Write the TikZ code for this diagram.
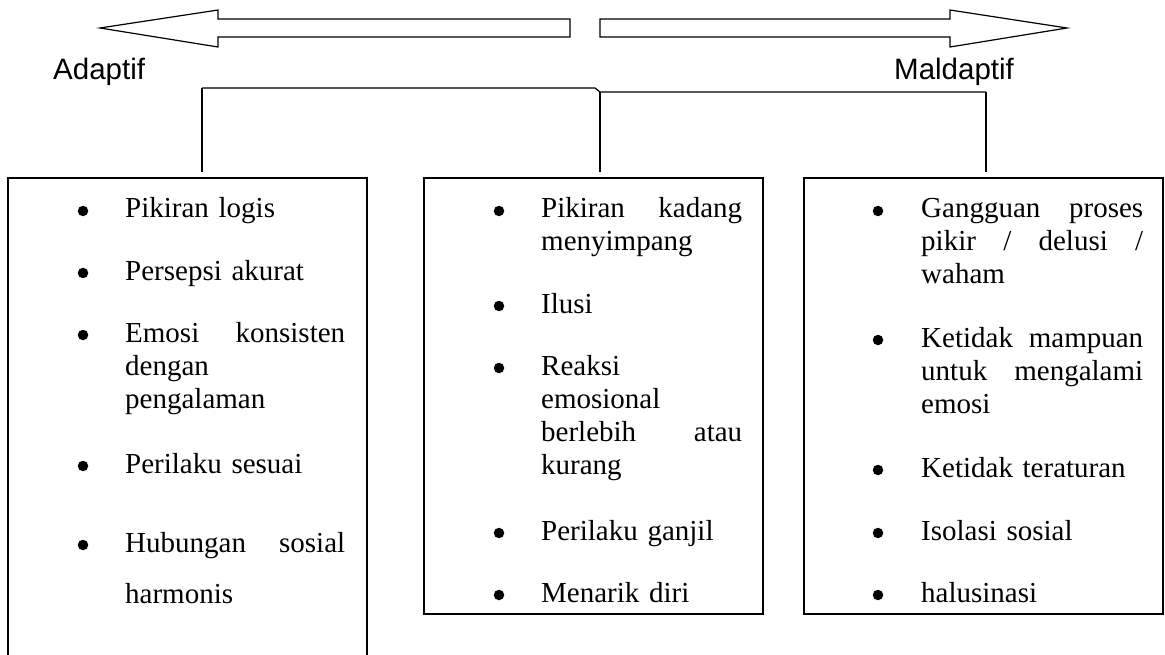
\documentclass[tikz,border=0pt]{standalone}
\usepackage{fontspec}
\setmainfont{Liberation Serif}
\newfontfamily\judulfont{Liberation Sans}

\tikzset{
  garis/.style={line width=1.2pt},
  kotak/.style={line width=1.4pt},
  judul/.style={anchor=base west,inner sep=0pt,font=\judulfont\fontsize{29.5}{34}\selectfont},
  butir/.style={anchor=base west,inner sep=0pt,align=left,font=\fontsize{29}{33}\selectfont},
  titik/.style={circle,fill,inner sep=0pt,minimum size=10.5pt}
}

\begin{document}
\begin{tikzpicture}[x=1pt,y=-1pt]
\path[use as bounding box] (0,0) rectangle (1165,655);
% panah atas
\draw[garis] (570,19) -- (218,19) -- (218,10) -- (100,28) -- (218,47) -- (218,37) -- (570,37) -- cycle;
\draw[garis] (600,19) -- (950,19) -- (950,10) -- (1067,28) -- (950,47) -- (950,37) -- (600,37) -- cycle;
\node[judul] (adaptif) at (53,80) {Adaptif};
\node[judul] (maladaptif) at (894,80) {Maldaptif};
% penghubung
\coordinate (a1) at (202,88);
\coordinate (a2) at (595,88);
\coordinate (a3) at (600,92);
\coordinate (a4) at (986,92);
\coordinate (b1) at (202,172);
\coordinate (b2) at (600,172);
\coordinate (b3) at (986,172);
\draw[garis] (a1) -- (a2) -- (a3) -- (a4);
\draw[garis] (a1) -- (b1);
\draw[garis] (a3) -- (b2);
\draw[garis] (a4) -- (b3);
% kotak
\draw[kotak] (8,655) -- (8,178) -- (367,178) -- (367,655);
\draw[kotak] (424,178) rectangle (763,614);
\draw[kotak] (804,178) rectangle (1163,614);
% kotak kiri
\node[titik] (t11) at (83,211) {};
\node[butir,text width=220pt] (p11) at (125,218) {Pikiran logis};
\node[titik] (t12) at (83,273) {};
\node[butir,text width=220pt] (p12) at (125,280) {Persepsi akurat};
\node[titik] (t13) at (83,335) {};
\node[butir,text width=220pt] (p13) at (125,342) {Emosi\hfill konsisten\\dengan\\pengalaman};
\node[titik] (t14) at (83,466) {};
\node[butir,text width=220pt] (p14) at (125,473) {Perilaku sesuai};
\node[titik] (t15) at (83,545) {};
\node[butir,text width=220pt,font=\fontsize{29}{51}\selectfont] (p15) at (125,552) {Hubungan\hfill sosial\\harmonis};
% kotak tengah
\node[titik] (t21) at (499,211) {};
\node[butir,text width=201pt] (p21) at (541,218) {Pikiran\hfill kadang\\menyimpang};
\node[titik] (t22) at (499,306) {};
\node[butir,text width=201pt] (p22) at (541,313) {Ilusi};
\node[titik] (t23) at (499,368) {};
\node[butir,text width=201pt] (p23) at (541,375) {Reaksi\\emosional\\berlebih\hfill atau\\kurang};
\node[titik] (t24) at (499,533) {};
\node[butir,text width=201pt] (p24) at (541,540) {Perilaku ganjil};
\node[titik] (t25) at (499,595) {};
\node[butir,text width=201pt] (p25) at (541,602) {Menarik diri};
% kotak kanan
\node[titik] (t31) at (878,211) {};
\node[butir,text width=222pt] (p31) at (921,218) {Gangguan\hfill proses\\pikir\hfill /\hfill delusi\hfill /\\waham};
\node[titik] (t32) at (878,340) {};
\node[butir,text width=222pt] (p32) at (921,347) {Ketidak\hfill mampuan\\untuk\hfill mengalami\\emosi};
\node[titik] (t33) at (878,470) {};
\node[butir,text width=222pt] (p33) at (921,477) {Ketidak teraturan};
\node[titik] (t34) at (878,533) {};
\node[butir,text width=222pt] (p34) at (921,540) {Isolasi sosial};
\node[titik] (t35) at (878,595) {};
\node[butir,text width=222pt] (p35) at (921,602) {halusinasi};
\end{tikzpicture}
\end{document}
